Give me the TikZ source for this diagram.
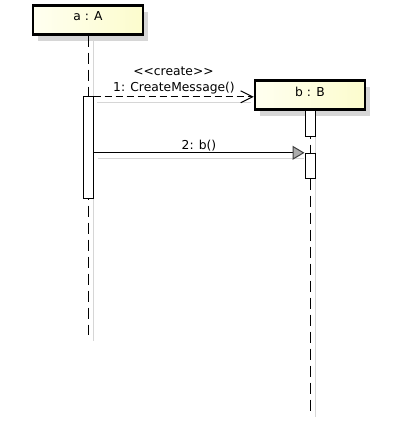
\documentclass[tikz,border=0pt]{standalone}
\usepackage{fontspec}
\setmainfont{DejaVu Sans}
\usetikzlibrary{arrows.meta,shadows,calc}
\definecolor{objlight}{RGB}{255,255,240}
\definecolor{objdark}{RGB}{252,252,205}
\definecolor{shadowgray}{RGB}{214,214,214}
\tikzset{
  objbox/.style={draw=black, line width=2.4pt, minimum width=110pt, minimum height=29pt,
    inner sep=0pt, left color=objlight, right color=objdark,
    general shadow={fill=shadowgray, shadow xshift=5pt, shadow yshift=-6pt}},
  actbox/.style={draw=black, line width=1pt, fill=white, minimum width=10pt, inner sep=0pt},
  lifeline/.style={line width=1pt, dash pattern=on 11pt off 6pt},
  shadowline/.style={draw=shadowgray, line width=1pt},
  txt/.style={font=\fontsize{12.3}{14}\selectfont, inner sep=0pt, anchor=base},
  createmsg/.style={line width=0.9pt, dash pattern=on 7pt off 4pt,
    -{Straight Barb[length=12pt, width=12pt, line width=1pt]}},
  callmsg/.style={line width=1pt,
    -{Triangle[length=12pt, width=14pt, fill=gray!65, color=black!75]}}
}
\begin{document}
\begin{tikzpicture}[x=1pt, y=-1pt]
  \useasboundingbox (0,0) rectangle (416,431);

  % object heads
  \node[objbox] (a) at (88,20) {};
  \node[objbox] (b) at (310,95) {};
  \node[txt] (alabel) at (88,20.7) {a : A};
  \node[txt] (blabel) at (310,96.7) {b : B};

  % lifeline ends
  \coordinate (aend) at (88,335);
  \coordinate (bend) at (310,412);

  % lifeline shadows
  \draw[shadowline] ($(a.south)+(5,1)$) -- ($(aend)+(5,6)$);
  \draw[shadowline] ($(b.south)+(5,1)$) -- ($(bend)+(5,5)$);

  % lifelines
  \draw[lifeline] (a.south) -- (aend);
  \draw[lifeline] (b.south) -- (bend);

  % activations
  \node[actbox, minimum height=102pt] (actA) at (88,147) {};
  \node[actbox, minimum height=26pt] (actB1) at (310,123) {};
  \node[actbox, minimum height=25pt] (actB2) at (310,165.8) {};

  % message shadows
  \draw[shadowline] (97,102) -- (251,102);
  \draw[shadowline] (98,158.5) -- (304,158.5);

  % messages
  \coordinate (createY) at (0,96.8);
  \draw[createmsg] (actA.east |- createY) -- (b.west |- createY);
  \draw[callmsg] (actA.east |- actB2.north west) -- (actB2.north west);

  % message labels
  \node[txt] (stereo) at (173.5,75) {{<}{<}create{>}{>}};
  \node[txt] (msg1) at (174,91) {1: CreateMessage()};
  \node[txt] (msg2) at (199,149) {2: b()};
\end{tikzpicture}
\end{document}
